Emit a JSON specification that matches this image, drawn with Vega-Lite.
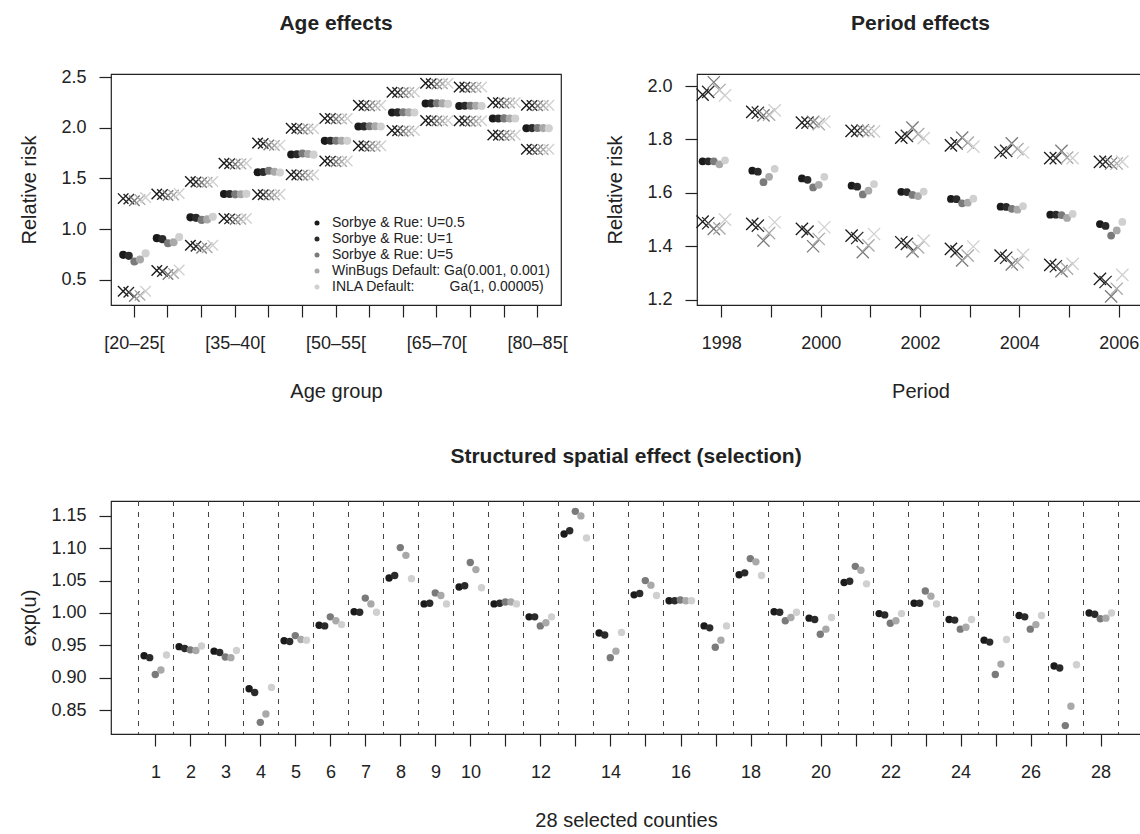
{
"$schema": "https://vega.github.io/schema/vega-lite/v6.json",
"background": "white",
"padding": {"left": 18, "top": 11, "right": 0, "bottom": 0},
"config": {
  "font": "Liberation Sans",
  "view": {"stroke": "#222", "strokeWidth": 1.2},
  "axis": {"grid": false, "domain": false, "labelFontSize": 18, "titleFontSize": 20, "titleFontWeight": "normal", "labelColor": "#222", "titleColor": "#222", "tickColor": "#222", "tickSize": 12, "tickWidth": 1.2, "labelFont": "Liberation Sans", "titleFont": "Liberation Sans"},
  "axisX": {"labelAngle": 0, "labelPadding": 17, "titlePadding": 26, "minExtent": 50, "maxExtent": 50, "labelOverlap": false},
  "axisY": {"labelPadding": 13, "titlePadding": 22, "minExtent": 50, "maxExtent": 50},
  "title": {"font": "Liberation Sans", "fontSize": 21, "fontWeight": "bold", "color": "#222", "anchor": "middle", "frame": "group", "offset": 34}
},
"datasets": {
"age": [
{"age":"[20–25[","method":"U=0.5","lo":0.385,"med":0.745,"hi":1.300},
{"age":"[20–25[","method":"U=1","lo":0.375,"med":0.735,"hi":1.295},
{"age":"[20–25[","method":"U=5","lo":0.335,"med":0.680,"hi":1.280},
{"age":"[20–25[","method":"WinBugs","lo":0.345,"med":0.700,"hi":1.290},
{"age":"[20–25[","method":"INLA","lo":0.385,"med":0.760,"hi":1.310},
{"age":"[25–30[","method":"U=0.5","lo":0.590,"med":0.910,"hi":1.345},
{"age":"[25–30[","method":"U=1","lo":0.580,"med":0.900,"hi":1.340},
{"age":"[25–30[","method":"U=5","lo":0.550,"med":0.860,"hi":1.330},
{"age":"[25–30[","method":"WinBugs","lo":0.560,"med":0.870,"hi":1.335},
{"age":"[25–30[","method":"INLA","lo":0.595,"med":0.920,"hi":1.350},
{"age":"[30–35[","method":"U=0.5","lo":0.840,"med":1.115,"hi":1.470},
{"age":"[30–35[","method":"U=1","lo":0.830,"med":1.110,"hi":1.465},
{"age":"[30–35[","method":"U=5","lo":0.810,"med":1.090,"hi":1.458},
{"age":"[30–35[","method":"WinBugs","lo":0.815,"med":1.095,"hi":1.462},
{"age":"[30–35[","method":"INLA","lo":0.840,"med":1.120,"hi":1.470},
{"age":"[35–40[","method":"U=0.5","lo":1.105,"med":1.345,"hi":1.650},
{"age":"[35–40[","method":"U=1","lo":1.100,"med":1.345,"hi":1.645},
{"age":"[35–40[","method":"U=5","lo":1.095,"med":1.342,"hi":1.640},
{"age":"[35–40[","method":"WinBugs","lo":1.097,"med":1.343,"hi":1.642},
{"age":"[35–40[","method":"INLA","lo":1.105,"med":1.347,"hi":1.650},
{"age":"[40–45[","method":"U=0.5","lo":1.340,"med":1.560,"hi":1.848},
{"age":"[40–45[","method":"U=1","lo":1.338,"med":1.562,"hi":1.843},
{"age":"[40–45[","method":"U=5","lo":1.335,"med":1.575,"hi":1.830},
{"age":"[40–45[","method":"WinBugs","lo":1.336,"med":1.565,"hi":1.825},
{"age":"[40–45[","method":"INLA","lo":1.342,"med":1.558,"hi":1.828},
{"age":"[45–50[","method":"U=0.5","lo":1.535,"med":1.735,"hi":1.995},
{"age":"[45–50[","method":"U=1","lo":1.533,"med":1.737,"hi":1.993},
{"age":"[45–50[","method":"U=5","lo":1.530,"med":1.745,"hi":1.985},
{"age":"[45–50[","method":"WinBugs","lo":1.531,"med":1.740,"hi":1.988},
{"age":"[45–50[","method":"INLA","lo":1.536,"med":1.734,"hi":1.990},
{"age":"[50–55[","method":"U=0.5","lo":1.672,"med":1.870,"hi":2.092},
{"age":"[50–55[","method":"U=1","lo":1.670,"med":1.871,"hi":2.090},
{"age":"[50–55[","method":"U=5","lo":1.665,"med":1.872,"hi":2.085},
{"age":"[50–55[","method":"WinBugs","lo":1.667,"med":1.871,"hi":2.087},
{"age":"[50–55[","method":"INLA","lo":1.672,"med":1.870,"hi":2.090},
{"age":"[55–60[","method":"U=0.5","lo":1.822,"med":2.012,"hi":2.222},
{"age":"[55–60[","method":"U=1","lo":1.820,"med":2.013,"hi":2.220},
{"age":"[55–60[","method":"U=5","lo":1.815,"med":2.015,"hi":2.215},
{"age":"[55–60[","method":"WinBugs","lo":1.817,"med":2.014,"hi":2.218},
{"age":"[55–60[","method":"INLA","lo":1.822,"med":2.012,"hi":2.222},
{"age":"[60–65[","method":"U=0.5","lo":1.972,"med":2.150,"hi":2.350},
{"age":"[60–65[","method":"U=1","lo":1.970,"med":2.151,"hi":2.348},
{"age":"[60–65[","method":"U=5","lo":1.965,"med":2.152,"hi":2.345},
{"age":"[60–65[","method":"WinBugs","lo":1.967,"med":2.151,"hi":2.347},
{"age":"[60–65[","method":"INLA","lo":1.972,"med":2.150,"hi":2.352},
{"age":"[65–70[","method":"U=0.5","lo":2.070,"med":2.238,"hi":2.438},
{"age":"[65–70[","method":"U=1","lo":2.068,"med":2.240,"hi":2.435},
{"age":"[65–70[","method":"U=5","lo":2.065,"med":2.242,"hi":2.430},
{"age":"[65–70[","method":"WinBugs","lo":2.066,"med":2.240,"hi":2.433},
{"age":"[65–70[","method":"INLA","lo":2.070,"med":2.235,"hi":2.438},
{"age":"[70–75[","method":"U=0.5","lo":2.068,"med":2.215,"hi":2.402},
{"age":"[70–75[","method":"U=1","lo":2.066,"med":2.216,"hi":2.400},
{"age":"[70–75[","method":"U=5","lo":2.063,"med":2.217,"hi":2.396},
{"age":"[70–75[","method":"WinBugs","lo":2.064,"med":2.216,"hi":2.398},
{"age":"[70–75[","method":"INLA","lo":2.068,"med":2.214,"hi":2.402},
{"age":"[75–80[","method":"U=0.5","lo":1.928,"med":2.090,"hi":2.248},
{"age":"[75–80[","method":"U=1","lo":1.926,"med":2.091,"hi":2.246},
{"age":"[75–80[","method":"U=5","lo":1.922,"med":2.092,"hi":2.242},
{"age":"[75–80[","method":"WinBugs","lo":1.924,"med":2.091,"hi":2.244},
{"age":"[75–80[","method":"INLA","lo":1.928,"med":2.090,"hi":2.248},
{"age":"[80–85[","method":"U=0.5","lo":1.788,"med":1.995,"hi":2.222},
{"age":"[80–85[","method":"U=1","lo":1.786,"med":1.996,"hi":2.220},
{"age":"[80–85[","method":"U=5","lo":1.782,"med":1.997,"hi":2.216},
{"age":"[80–85[","method":"WinBugs","lo":1.784,"med":1.996,"hi":2.218},
{"age":"[80–85[","method":"INLA","lo":1.788,"med":1.995,"hi":2.222}
],
"period": [
{"year":1998,"method":"U=0.5","lo":1.492,"med":1.718,"hi":1.968},
{"year":1998,"method":"U=1","lo":1.486,"med":1.718,"hi":1.978},
{"year":1998,"method":"U=5","lo":1.465,"med":1.718,"hi":2.014},
{"year":1998,"method":"WinBugs","lo":1.467,"med":1.707,"hi":1.985},
{"year":1998,"method":"INLA","lo":1.500,"med":1.722,"hi":1.965},
{"year":1999,"method":"U=0.5","lo":1.484,"med":1.683,"hi":1.903},
{"year":1999,"method":"U=1","lo":1.477,"med":1.679,"hi":1.900},
{"year":1999,"method":"U=5","lo":1.421,"med":1.640,"hi":1.890},
{"year":1999,"method":"WinBugs","lo":1.449,"med":1.660,"hi":1.893},
{"year":1999,"method":"INLA","lo":1.490,"med":1.690,"hi":1.909},
{"year":2000,"method":"U=0.5","lo":1.465,"med":1.654,"hi":1.863},
{"year":2000,"method":"U=1","lo":1.455,"med":1.649,"hi":1.863},
{"year":2000,"method":"U=5","lo":1.400,"med":1.620,"hi":1.866},
{"year":2000,"method":"WinBugs","lo":1.427,"med":1.630,"hi":1.857},
{"year":2000,"method":"INLA","lo":1.471,"med":1.660,"hi":1.867},
{"year":2001,"method":"U=0.5","lo":1.440,"med":1.627,"hi":1.832},
{"year":2001,"method":"U=1","lo":1.431,"med":1.623,"hi":1.832},
{"year":2001,"method":"U=5","lo":1.378,"med":1.594,"hi":1.834},
{"year":2001,"method":"WinBugs","lo":1.403,"med":1.608,"hi":1.830},
{"year":2001,"method":"INLA","lo":1.446,"med":1.633,"hi":1.830},
{"year":2002,"method":"U=0.5","lo":1.415,"med":1.604,"hi":1.807},
{"year":2002,"method":"U=1","lo":1.409,"med":1.603,"hi":1.813},
{"year":2002,"method":"U=5","lo":1.381,"med":1.592,"hi":1.844},
{"year":2002,"method":"WinBugs","lo":1.396,"med":1.588,"hi":1.820},
{"year":2002,"method":"INLA","lo":1.421,"med":1.605,"hi":1.805},
{"year":2003,"method":"U=0.5","lo":1.390,"med":1.577,"hi":1.778},
{"year":2003,"method":"U=1","lo":1.381,"med":1.576,"hi":1.785},
{"year":2003,"method":"U=5","lo":1.347,"med":1.561,"hi":1.807},
{"year":2003,"method":"WinBugs","lo":1.365,"med":1.563,"hi":1.788},
{"year":2003,"method":"INLA","lo":1.399,"med":1.578,"hi":1.773},
{"year":2004,"method":"U=0.5","lo":1.365,"med":1.548,"hi":1.751},
{"year":2004,"method":"U=1","lo":1.357,"med":1.547,"hi":1.757},
{"year":2004,"method":"U=5","lo":1.332,"med":1.540,"hi":1.785},
{"year":2004,"method":"WinBugs","lo":1.340,"med":1.537,"hi":1.764},
{"year":2004,"method":"INLA","lo":1.368,"med":1.550,"hi":1.751},
{"year":2005,"method":"U=0.5","lo":1.330,"med":1.518,"hi":1.730},
{"year":2005,"method":"U=1","lo":1.325,"med":1.518,"hi":1.730},
{"year":2005,"method":"U=5","lo":1.307,"med":1.517,"hi":1.757},
{"year":2005,"method":"WinBugs","lo":1.316,"med":1.506,"hi":1.732},
{"year":2005,"method":"INLA","lo":1.334,"med":1.521,"hi":1.730},
{"year":2006,"method":"U=0.5","lo":1.278,"med":1.483,"hi":1.716},
{"year":2006,"method":"U=1","lo":1.266,"med":1.476,"hi":1.717},
{"year":2006,"method":"U=5","lo":1.212,"med":1.440,"hi":1.710},
{"year":2006,"method":"WinBugs","lo":1.241,"med":1.459,"hi":1.710},
{"year":2006,"method":"INLA","lo":1.293,"med":1.491,"hi":1.717}
],
"county": [
{"county":1,"method":"U=0.5","med":0.934},{"county":1,"method":"U=1","med":0.931},{"county":1,"method":"U=5","med":0.905},{"county":1,"method":"WinBugs","med":0.912},{"county":1,"method":"INLA","med":0.935},
{"county":2,"method":"U=0.5","med":0.948},{"county":2,"method":"U=1","med":0.945},{"county":2,"method":"U=5","med":0.943},{"county":2,"method":"WinBugs","med":0.942},{"county":2,"method":"INLA","med":0.949},
{"county":3,"method":"U=0.5","med":0.941},{"county":3,"method":"U=1","med":0.939},{"county":3,"method":"U=5","med":0.932},{"county":3,"method":"WinBugs","med":0.931},{"county":3,"method":"INLA","med":0.942},
{"county":4,"method":"U=0.5","med":0.883},{"county":4,"method":"U=1","med":0.877},{"county":4,"method":"U=5","med":0.831},{"county":4,"method":"WinBugs","med":0.844},{"county":4,"method":"INLA","med":0.885},
{"county":5,"method":"U=0.5","med":0.957},{"county":5,"method":"U=1","med":0.956},{"county":5,"method":"U=5","med":0.965},{"county":5,"method":"WinBugs","med":0.959},{"county":5,"method":"INLA","med":0.958},
{"county":6,"method":"U=0.5","med":0.981},{"county":6,"method":"U=1","med":0.980},{"county":6,"method":"U=5","med":0.994},{"county":6,"method":"WinBugs","med":0.988},{"county":6,"method":"INLA","med":0.982},
{"county":7,"method":"U=0.5","med":1.002},{"county":7,"method":"U=1","med":1.001},{"county":7,"method":"U=5","med":1.023},{"county":7,"method":"WinBugs","med":1.014},{"county":7,"method":"INLA","med":1.001},
{"county":8,"method":"U=0.5","med":1.054},{"county":8,"method":"U=1","med":1.058},{"county":8,"method":"U=5","med":1.101},{"county":8,"method":"WinBugs","med":1.089},{"county":8,"method":"INLA","med":1.053},
{"county":9,"method":"U=0.5","med":1.014},{"county":9,"method":"U=1","med":1.015},{"county":9,"method":"U=5","med":1.031},{"county":9,"method":"WinBugs","med":1.027},{"county":9,"method":"INLA","med":1.014},
{"county":10,"method":"U=0.5","med":1.040},{"county":10,"method":"U=1","med":1.042},{"county":10,"method":"U=5","med":1.078},{"county":10,"method":"WinBugs","med":1.067},{"county":10,"method":"INLA","med":1.039},
{"county":11,"method":"U=0.5","med":1.014},{"county":11,"method":"U=1","med":1.015},{"county":11,"method":"U=5","med":1.017},{"county":11,"method":"WinBugs","med":1.017},{"county":11,"method":"INLA","med":1.014},
{"county":12,"method":"U=0.5","med":0.994},{"county":12,"method":"U=1","med":0.994},{"county":12,"method":"U=5","med":0.980},{"county":12,"method":"WinBugs","med":0.985},{"county":12,"method":"INLA","med":0.994},
{"county":13,"method":"U=0.5","med":1.122},{"county":13,"method":"U=1","med":1.127},{"county":13,"method":"U=5","med":1.157},{"county":13,"method":"WinBugs","med":1.150},{"county":13,"method":"INLA","med":1.116},
{"county":14,"method":"U=0.5","med":0.969},{"county":14,"method":"U=1","med":0.966},{"county":14,"method":"U=5","med":0.931},{"county":14,"method":"WinBugs","med":0.941},{"county":14,"method":"INLA","med":0.970},
{"county":15,"method":"U=0.5","med":1.028},{"county":15,"method":"U=1","med":1.030},{"county":15,"method":"U=5","med":1.050},{"county":15,"method":"WinBugs","med":1.043},{"county":15,"method":"INLA","med":1.027},
{"county":16,"method":"U=0.5","med":1.019},{"county":16,"method":"U=1","med":1.019},{"county":16,"method":"U=5","med":1.020},{"county":16,"method":"WinBugs","med":1.019},{"county":16,"method":"INLA","med":1.019},
{"county":17,"method":"U=0.5","med":0.980},{"county":17,"method":"U=1","med":0.977},{"county":17,"method":"U=5","med":0.947},{"county":17,"method":"WinBugs","med":0.958},{"county":17,"method":"INLA","med":0.980},
{"county":18,"method":"U=0.5","med":1.059},{"county":18,"method":"U=1","med":1.062},{"county":18,"method":"U=5","med":1.084},{"county":18,"method":"WinBugs","med":1.079},{"county":18,"method":"INLA","med":1.058},
{"county":19,"method":"U=0.5","med":1.002},{"county":19,"method":"U=1","med":1.001},{"county":19,"method":"U=5","med":0.988},{"county":19,"method":"WinBugs","med":0.993},{"county":19,"method":"INLA","med":1.001},
{"county":20,"method":"U=0.5","med":0.992},{"county":20,"method":"U=1","med":0.990},{"county":20,"method":"U=5","med":0.967},{"county":20,"method":"WinBugs","med":0.975},{"county":20,"method":"INLA","med":0.993},
{"county":21,"method":"U=0.5","med":1.047},{"county":21,"method":"U=1","med":1.049},{"county":21,"method":"U=5","med":1.072},{"county":21,"method":"WinBugs","med":1.066},{"county":21,"method":"INLA","med":1.045},
{"county":22,"method":"U=0.5","med":0.999},{"county":22,"method":"U=1","med":0.997},{"county":22,"method":"U=5","med":0.984},{"county":22,"method":"WinBugs","med":0.988},{"county":22,"method":"INLA","med":0.999},
{"county":23,"method":"U=0.5","med":1.015},{"county":23,"method":"U=1","med":1.015},{"county":23,"method":"U=5","med":1.034},{"county":23,"method":"WinBugs","med":1.026},{"county":23,"method":"INLA","med":1.014},
{"county":24,"method":"U=0.5","med":0.990},{"county":24,"method":"U=1","med":0.989},{"county":24,"method":"U=5","med":0.975},{"county":24,"method":"WinBugs","med":0.978},{"county":24,"method":"INLA","med":0.990},
{"county":25,"method":"U=0.5","med":0.958},{"county":25,"method":"U=1","med":0.955},{"county":25,"method":"U=5","med":0.905},{"county":25,"method":"WinBugs","med":0.921},{"county":25,"method":"INLA","med":0.959},
{"county":26,"method":"U=0.5","med":0.996},{"county":26,"method":"U=1","med":0.994},{"county":26,"method":"U=5","med":0.975},{"county":26,"method":"WinBugs","med":0.982},{"county":26,"method":"INLA","med":0.996},
{"county":27,"method":"U=0.5","med":0.918},{"county":27,"method":"U=1","med":0.915},{"county":27,"method":"U=5","med":0.826},{"county":27,"method":"WinBugs","med":0.856},{"county":27,"method":"INLA","med":0.920},
{"county":28,"method":"U=0.5","med":1.000},{"county":28,"method":"U=1","med":0.998},{"county":28,"method":"U=5","med":0.991},{"county":28,"method":"WinBugs","med":0.992},{"county":28,"method":"INLA","med":1.000}
]
},
"resolve": {"scale": {"fill": "independent", "stroke": "independent"}, "legend": {"fill": "independent", "stroke": "independent"}},
"spacing": 42,
"vconcat": [
{
  "spacing": 36,
  "resolve": {"scale": {"fill": "independent", "stroke": "independent"}, "legend": {"fill": "independent", "stroke": "independent"}},
  "hconcat": [
  {
    "width": 450, "height": 231,
    "title": {"text": "Age effects", "offset": 34},
    "data": {"name": "age"},
    "encoding": {
      "x": {"field": "age", "type": "ordinal", "sort": null, "scale": {"paddingInner": 0, "paddingOuter": 0.196},
            "axis": {"title": "Age group", "bandPosition": 0.5, "labelExpr": "(datum.value == '[20–25[' || datum.value == '[35–40[' || datum.value == '[50–55[' || datum.value == '[65–70[' || datum.value == '[80–85[') ? datum.label : ''"}},
      "xOffset": {"field": "method", "type": "nominal", "sort": ["U=0.5","U=1","U=5","WinBugs","INLA"], "scale": {"paddingInner": 0, "paddingOuter": 2.5}}
    },
    "layer": [
      {"mark": {"type": "point", "shape": "M-1,-1L1,1M-1,1L1,-1", "filled": false, "size": 110, "strokeWidth": 1.4, "opacity": 1},
       "encoding": {
         "y": {"field": "lo", "type": "quantitative", "title": "Relative risk", "scale": {"domain": [0.25, 2.53], "nice": false, "zero": false}, "axis": {"values": [0.5, 1, 1.5, 2, 2.5], "format": ".1f"}},
         "stroke": {"field": "method", "type": "nominal", "sort": ["U=0.5","U=1","U=5","WinBugs","INLA"], "scale": {"range": ["#1a1a1a","#2b2b2b","#7a7a7a","#a9a9a9","#d0d0d0"]}, "legend": null}}},
      {"mark": {"type": "point", "shape": "M-1,-1L1,1M-1,1L1,-1", "filled": false, "size": 110, "strokeWidth": 1.4, "opacity": 1},
       "encoding": {
         "y": {"field": "hi", "type": "quantitative", "title": "Relative risk"},
         "stroke": {"field": "method", "type": "nominal", "sort": ["U=0.5","U=1","U=5","WinBugs","INLA"], "legend": null}}},
      {"mark": {"type": "circle", "size": 65, "opacity": 1},
       "encoding": {
         "y": {"field": "med", "type": "quantitative", "title": "Relative risk"},
         "fill": {"field": "method", "type": "nominal", "scale": {"domain": ["U=0.5","U=1","U=5","WinBugs","INLA"], "range": ["#1a1a1a","#2b2b2b","#7a7a7a","#a9a9a9","#d0d0d0"]},
                  "legend": {"orient": "bottom-right", "offset": 11, "title": null, "padding": 0, "labelFont": "Liberation Sans", "labelFontSize": 14, "labelColor": "#222", "labelLimit": 400, "symbolType": "circle", "symbolSize": 25, "symbolStrokeWidth": 0, "labelOffset": 8, "rowPadding": 2,
                             "labelExpr": "datum.label == 'U=0.5' ? 'Sorbye & Rue: U=0.5' : datum.label == 'U=1' ? 'Sorbye & Rue: U=1' : datum.label == 'U=5' ? 'Sorbye & Rue: U=5' : datum.label == 'WinBugs' ? 'WinBugs Default: Ga(0.001, 0.001)' : 'INLA Default:\u00a0\u00a0\u00a0\u00a0\u00a0\u00a0\u00a0\u00a0\u00a0Ga(1, 0.00005)'"}}}}
    ]
  },
  {
    "width": 447, "height": 231,
    "title": {"text": "Period effects", "offset": 40},
    "data": {"name": "period"},
    "encoding": {
      "x": {"field": "year", "type": "ordinal", "scale": {"paddingInner": 0, "paddingOuter": 0}, "axis": {"title": "Period", "bandPosition": 0.5, "labelExpr": "datum.value % 2 == 0 ? datum.label : ''"}},
      "xOffset": {"field": "method", "type": "nominal", "sort": ["U=0.5","U=1","U=5","WinBugs","INLA"], "scale": {"paddingInner": 0, "paddingOuter": 2.5}}
    },
    "layer": [
      {"mark": {"type": "point", "shape": "M-1,-1L1,1M-1,1L1,-1", "filled": false, "size": 150, "strokeWidth": 1.3, "opacity": 1},
       "encoding": {
         "y": {"field": "lo", "type": "quantitative", "title": "Relative risk", "scale": {"domain": [1.18, 2.045], "nice": false, "zero": false}, "axis": {"values": [1.2, 1.4, 1.6, 1.8, 2.0], "format": ".1f"}},
         "stroke": {"field": "method", "type": "nominal", "sort": ["U=0.5","U=1","U=5","WinBugs","INLA"], "scale": {"range": ["#1a1a1a","#2b2b2b","#7a7a7a","#a9a9a9","#d0d0d0"]}, "legend": null}}},
      {"mark": {"type": "point", "shape": "M-1,-1L1,1M-1,1L1,-1", "filled": false, "size": 150, "strokeWidth": 1.3, "opacity": 1},
       "encoding": {
         "y": {"field": "hi", "type": "quantitative", "title": "Relative risk"},
         "stroke": {"field": "method", "type": "nominal", "sort": ["U=0.5","U=1","U=5","WinBugs","INLA"], "legend": null}}},
      {"mark": {"type": "circle", "size": 60, "opacity": 1},
       "encoding": {
         "y": {"field": "med", "type": "quantitative", "title": "Relative risk"},
         "fill": {"field": "method", "type": "nominal", "scale": {"domain": ["U=0.5","U=1","U=5","WinBugs","INLA"], "range": ["#1a1a1a","#2b2b2b","#7a7a7a","#a9a9a9","#d0d0d0"]}, "legend": null}}}
    ]
  }
  ]
},
{
  "width": 1030, "height": 233,
  "title": {"text": "Structured spatial effect (selection)"},
  "data": {"name": "county"},
  "layer": [
    {"transform": [{"filter": "datum.method == 'U=0.5'"}],
     "mark": {"type": "rule", "strokeDash": [5, 6], "color": "#444", "strokeWidth": 1},
     "encoding": {
       "x": {"field": "county", "type": "ordinal", "bandPosition": 0, "scale": {"paddingInner": 0, "paddingOuter": 0.714, "align": 0.55},
             "axis": {"title": "28 selected counties", "bandPosition": 0.5, "labelExpr": "datum.value <= 10 || datum.value % 2 == 0 ? datum.label : ''"}}}},
    {"transform": [{"filter": "datum.method == 'U=0.5'"}],
     "mark": {"type": "rule", "strokeDash": [5, 6], "color": "#444", "strokeWidth": 1},
     "encoding": {
       "x": {"field": "county", "type": "ordinal", "bandPosition": 1, "title": "28 selected counties"}}},
    {"mark": {"type": "circle", "size": 55, "opacity": 1},
     "encoding": {
       "x": {"field": "county", "type": "ordinal", "title": "28 selected counties"},
       "xOffset": {"field": "method", "type": "nominal", "sort": ["U=0.5","U=1","U=5","WinBugs","INLA"], "scale": {"paddingInner": 0, "paddingOuter": 2.5}},
       "y": {"field": "med", "type": "quantitative", "title": "exp(u)", "scale": {"domain": [0.813, 1.173], "nice": false, "zero": false}, "axis": {"values": [0.85, 0.9, 0.95, 1.0, 1.05, 1.1, 1.15], "format": ".2f"}},
       "fill": {"field": "method", "type": "nominal", "scale": {"domain": ["U=0.5","U=1","U=5","WinBugs","INLA"], "range": ["#1a1a1a","#2b2b2b","#7a7a7a","#a9a9a9","#d0d0d0"]}, "legend": null}}}
  ]
}
]
}
